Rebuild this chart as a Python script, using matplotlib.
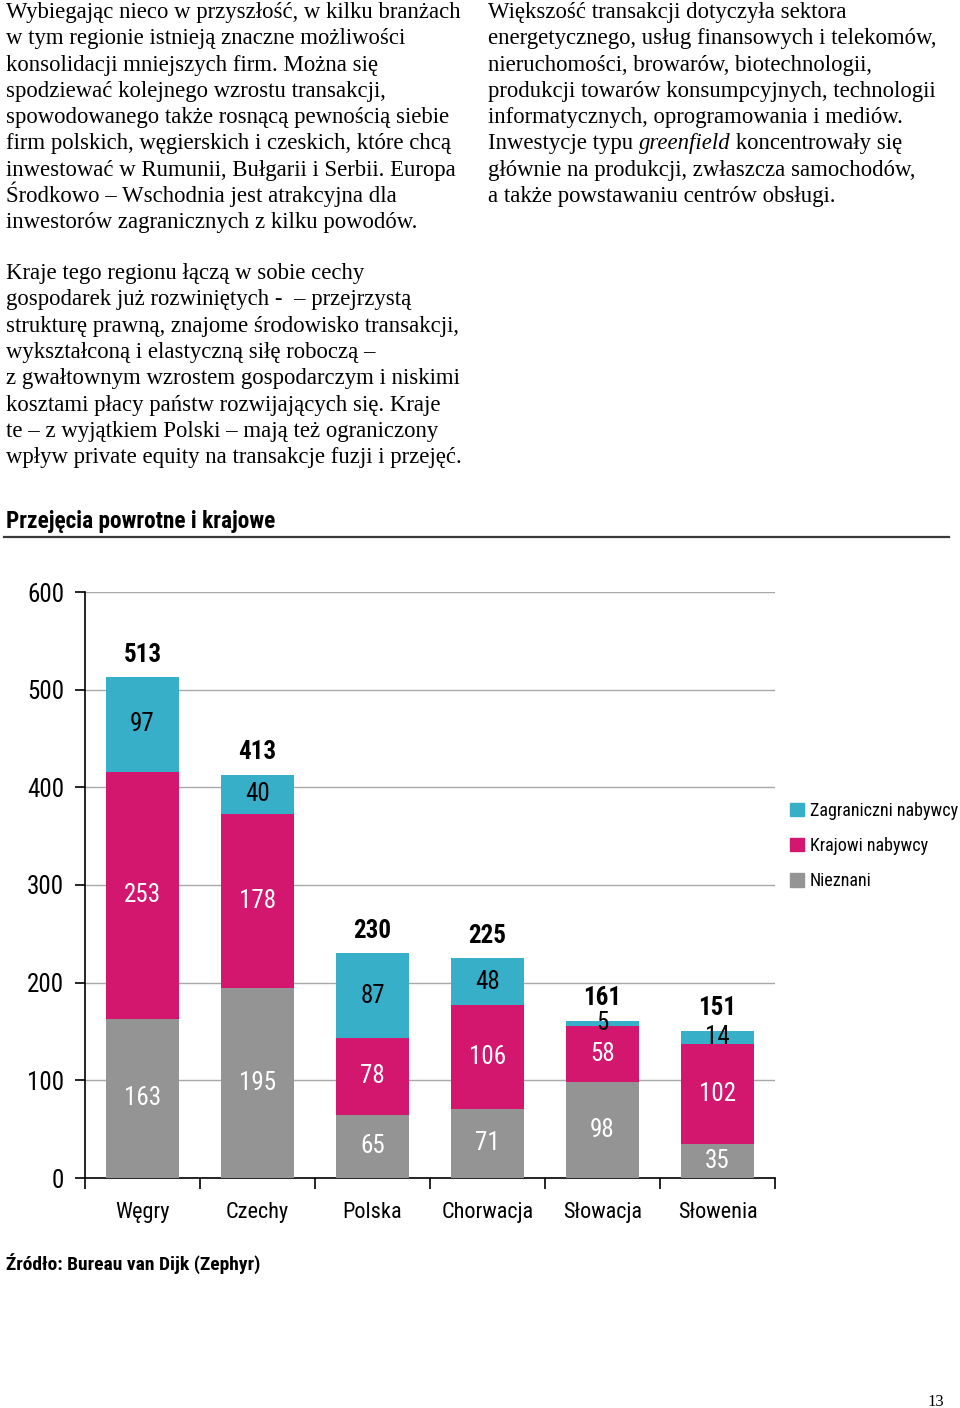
import numpy as np
import matplotlib
matplotlib.use("Agg")
import matplotlib.pyplot as plt
from matplotlib.lines import Line2D
from matplotlib.patches import Patch

W, H = 960, 1408
SERIF = ['Liberation Serif', 'DejaVu Serif']
NARROW = ['Roboto Condensed', 'Liberation Sans', 'DejaVu Sans']

# ---------------- data ----------------
countries = ['Węgry', 'Czechy', 'Polska', 'Chorwacja', 'Słowacja', 'Słowenia']
unknown = [163, 195, 65, 71, 98, 35]
domestic = [253, 178, 78, 106, 58, 102]
foreign = [97, 40, 87, 48, 5, 14]
totals = [513, 413, 230, 225, 161, 151]
series_names = ['Zagraniczni nabywcy', 'Krajowi nabywcy', 'Nieznani']

col_foreign = '#37afc9'
col_domestic = '#d3176f'
col_unknown = '#949494'

text_left_top = [
    "Wybiegając nieco w przyszłość, w kilku branżach",
    "w tym regionie istnieją znaczne możliwości",
    "konsolidacji mniejszych firm. Można się",
    "spodziewać kolejnego wzrostu transakcji,",
    "spowodowanego także rosnącą pewnością siebie",
    "firm polskich, węgierskich i czeskich, które chcą",
    "inwestować w Rumunii, Bułgarii i Serbii. Europa",
    "Środkowo – Wschodnia jest atrakcyjna dla",
    "inwestorów zagranicznych z kilku powodów.",
]
text_left_bottom = [
    "Kraje tego regionu łączą w sobie cechy",
    "gospodarek już rozwiniętych -  – przejrzystą",
    "strukturę prawną, znajome środowisko transakcji,",
    "wykształconą i elastyczną siłę roboczą –",
    "z gwałtownym wzrostem gospodarczym i niskimi",
    "kosztami płacy państw rozwijających się. Kraje",
    "te – z wyjątkiem Polski – mają też ograniczony",
    "wpływ private equity na transakcje fuzji i przejęć.",
]
text_right = [
    "Większość transakcji dotyczyła sektora",
    "energetycznego, usług finansowych i telekomów,",
    "nieruchomości, browarów, biotechnologii,",
    "produkcji towarów konsumpcyjnych, technologii",
    "informatycznych, oprogramowania i mediów.",
    None,  # line with italic word, drawn separately
    "głównie na produkcji, zwłaszcza samochodów,",
    "a także powstawaniu centrów obsługi.",
]

fig = plt.figure(figsize=(W / 100, H / 100), dpi=100)
BODY = 16.4


def fy(py):
    return 1 - py / H


def fx(px):
    return px / W


def block(lines, x0, y0, step=26.3, size=BODY):
    for i, s in enumerate(lines):
        if s is None:
            continue
        fig.text(fx(x0), fy(y0 + i * step), s, family=SERIF, fontsize=size,
                 va='baseline', ha='left')


block(text_left_top, 6, 18)
block(text_left_bottom, 6, 279)
block(text_right, 488, 18)

# mixed-style line in right column
renderer = fig.canvas.get_renderer()
yb = fy(18 + 5 * 26.3)
xcur = fx(488)
for piece, style in [("Inwestycje typu ", 'normal'), ("greenfield", 'italic'),
                     (" koncentrowały się", 'normal')]:
    t = fig.text(xcur, yb, piece, family=SERIF, fontsize=BODY, style=style,
                 va='baseline', ha='left')
    bb = t.get_window_extent(renderer=renderer)
    xcur += bb.width / W

# chart title and rule
fig.text(fx(6), fy(528), "Przejęcia powrotne i krajowe", family=NARROW,
         fontsize=16.8, fontweight='bold', va='baseline', ha='left')
fig.add_artist(Line2D([fx(4), fx(949)], [fy(537), fy(537)], color='#3a3a3a',
                      lw=1.6, transform=fig.transFigure))

# ---------------- chart ----------------
ax = fig.add_axes([fx(85), fy(1178), fx(775) - fx(85), (1178 - 592) / H])
x = np.arange(len(countries)) + 0.5
bw = 0.635
b1 = ax.bar(x, unknown, bw, color=col_unknown, zorder=3)
b2 = ax.bar(x, domestic, bw, bottom=unknown, color=col_domestic, zorder=3)
bottom3 = np.array(unknown) + np.array(domestic)
b3 = ax.bar(x, foreign, bw, bottom=bottom3, color=col_foreign, zorder=3)

lab_kw = dict(family=NARROW, fontsize=18, ha='center', va='center', zorder=4)
for i in range(len(countries)):
    ax.text(x[i], unknown[i] / 2, str(unknown[i]), color='white', **lab_kw)
    ax.text(x[i], unknown[i] + domestic[i] / 2, str(domestic[i]), color='white', **lab_kw)
    ax.text(x[i], bottom3[i] + foreign[i] / 2, str(foreign[i]), color='black', **lab_kw)
    ax.text(x[i], totals[i] + 23, str(totals[i]), color='black', fontweight='bold', **lab_kw)

ax.set_xlim(0, len(countries))
ax.set_ylim(0, 600)
ax.set_yticks(np.arange(0, 601, 100))
ax.yaxis.grid(True, color='#a8a8a8', lw=1.0, zorder=0)
ax.set_axisbelow(True)

ax.set_xticks(np.arange(0, len(countries) + 1))
ax.set_xticklabels([])
ax.set_xticks(x, minor=True)
ax.set_xticklabels(countries, minor=True)
ax.tick_params(axis='x', which='major', direction='out', length=8, width=1.2)
ax.tick_params(axis='x', which='minor', length=0, pad=17)
ax.tick_params(axis='y', direction='out', length=7, width=1.2, pad=8)
for lab in ax.get_xticklabels(minor=True):
    lab.set_family(NARROW)
    lab.set_fontsize(16)
for lab in ax.get_yticklabels():
    lab.set_family(NARROW)
    lab.set_fontsize(18)

for s in ['top', 'right']:
    ax.spines[s].set_visible(False)
ax.spines['left'].set_linewidth(1.2)
ax.spines['bottom'].set_linewidth(1.2)

handles = [Patch(color=col_foreign), Patch(color=col_domestic), Patch(color=col_unknown)]
leg = fig.legend(handles, series_names, loc='upper left',
                 bbox_to_anchor=(fx(790), fy(802)), bbox_transform=fig.transFigure,
                 frameon=False, borderpad=0, borderaxespad=0, handlelength=0.75,
                 handleheight=0.75, handletextpad=0.35, labelspacing=0.95,
                 prop={'family': NARROW, 'size': 13})

fig.text(fx(6), fy(1270), "Źródło: Bureau van Dijk (Zephyr)", family=NARROW,
         fontsize=14, fontweight='bold', va='baseline', ha='left')

fig.text(fx(944), fy(1406), "13", family=SERIF, fontsize=12, va='baseline', ha='right')

fig.savefig('out.png', dpi=100)
